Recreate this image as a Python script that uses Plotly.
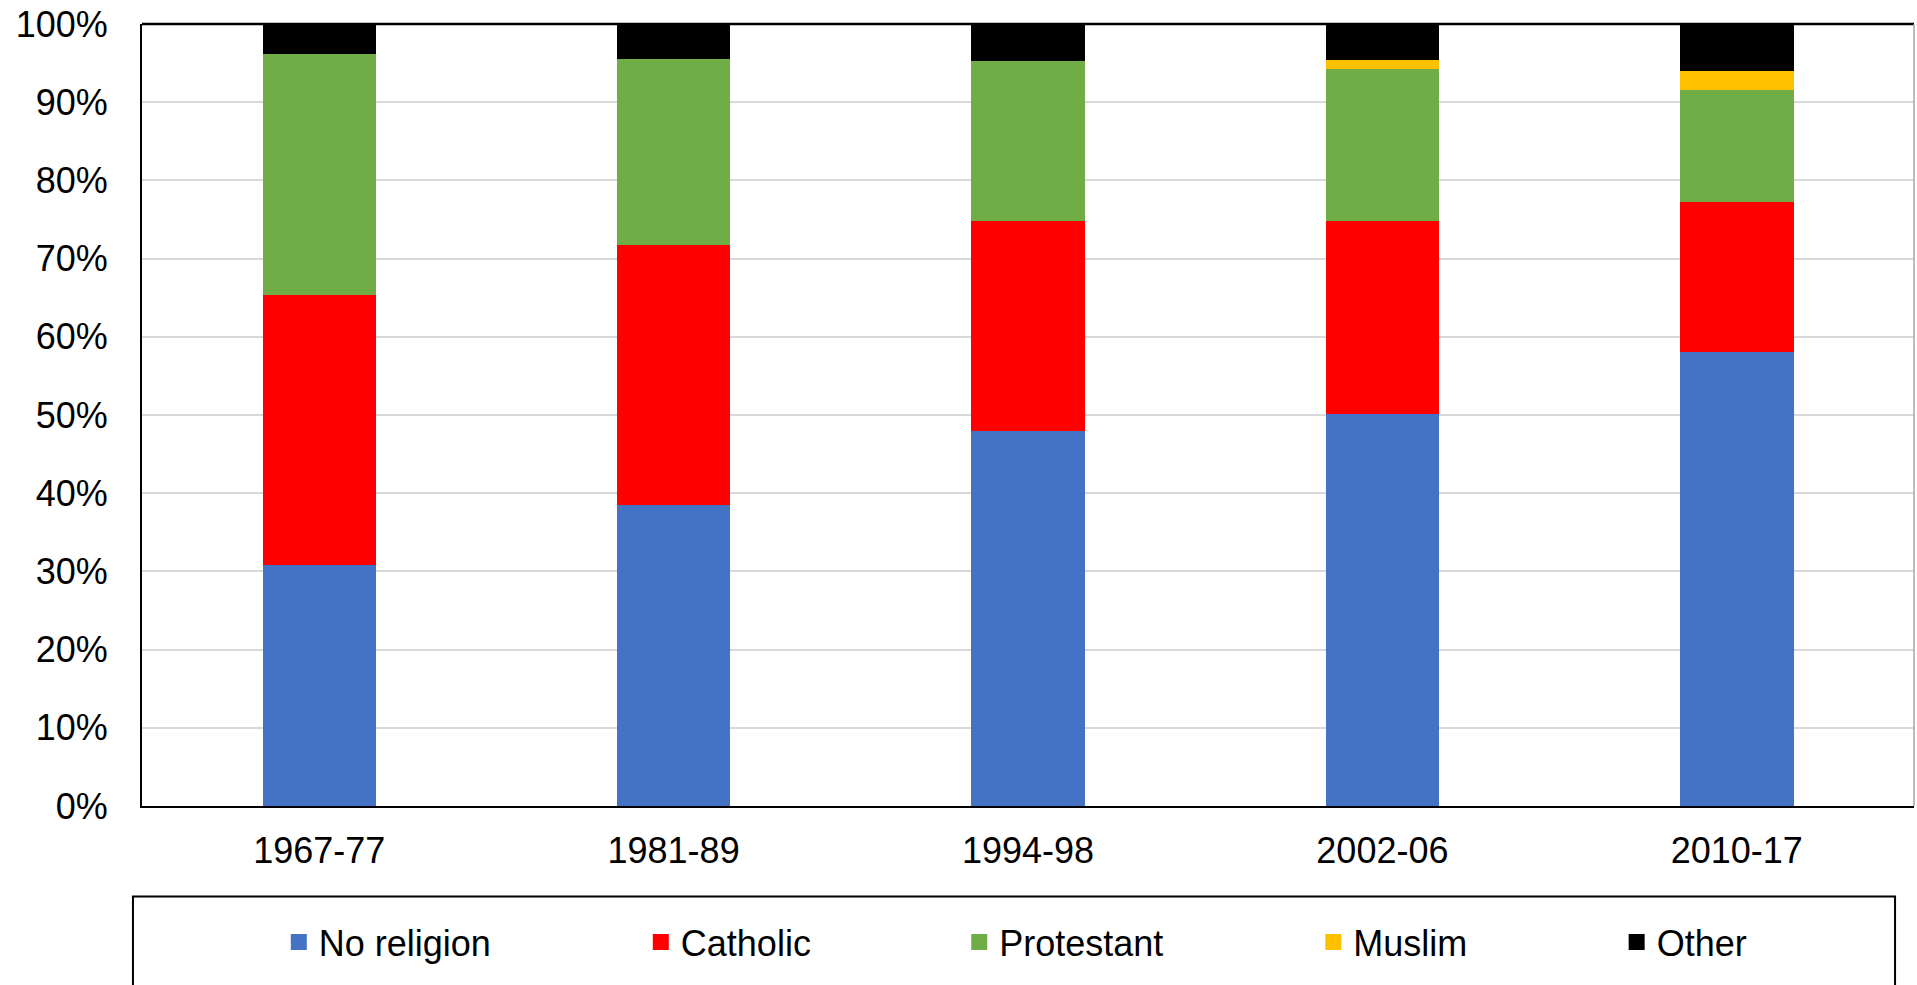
import plotly.graph_objects as go

categories = ["1967-77", "1981-89", "1994-98", "2002-06", "2010-17"]
no_religion = [30.8, 38.5, 47.9, 50.1, 58.0]
catholic = [34.6, 33.2, 26.9, 24.7, 19.3]
protestant = [30.8, 23.8, 20.5, 19.4, 14.2]
muslim = [0.0, 0.0, 0.0, 1.15, 2.55]
other = [3.8, 4.5, 4.7, 4.65, 5.95]

series_names = ["No religion", "Catholic", "Protestant", "Muslim", "Other"]
series_values = [no_religion, catholic, protestant, muslim, other]
colors = ["#4472C4", "#FF0000", "#70AD47", "#FFC000", "#000000"]
legend_ids = ["legend", "legend2", "legend3", "legend4", "legend5"]
legend_x = [0.0772, 0.2815, 0.4612, 0.6610, 0.8322]

FONT = "Liberation Sans, Arial, sans-serif"

fig = go.Figure()
for name, vals, col in zip(series_names, series_values, colors):
    fig.add_trace(go.Bar(
        x=categories, y=vals, name=name, showlegend=False,
        marker=dict(color=col, line=dict(width=0)),
    ))
# legend entries (square swatches)
for name, col, lid in zip(series_names, colors, legend_ids):
    fig.add_trace(go.Scatter(
        x=[None], y=[None], mode="markers", name=name, legend=lid,
        marker=dict(symbol="square", size=20, color=col, line=dict(width=0)),
        hoverinfo="skip",
    ))

layout_legends = {}
for lid, lx in zip(legend_ids, legend_x):
    layout_legends[lid] = dict(
        x=lx, xanchor="left", y=-0.1740, yanchor="middle",
        orientation="h", bgcolor="rgba(0,0,0,0)", borderwidth=0,
        font=dict(family=FONT, size=36, color="black"),
    )

fig.update_layout(
    width=1917, height=985,
    margin=dict(l=142, r=3, t=24, b=179),
    barmode="stack", bargap=0.68,
    plot_bgcolor="white", paper_bgcolor="white",
    font=dict(family=FONT, size=36, color="black"),
    showlegend=True,
    **layout_legends,
)
fig.update_xaxes(
    type="category",
    showline=True, linecolor="black", linewidth=2,
    ticks="", ticklabelstandoff=12,
    tickfont=dict(family=FONT, size=36, color="black"),
)
fig.update_yaxes(
    range=[0, 100], dtick=10, ticksuffix="%",
    showgrid=True, gridcolor="#D9D9D9", gridwidth=1.5,
    showline=True, linecolor="black", linewidth=2,
    zeroline=False,
    ticks="", ticklabelstandoff=25,
    tickfont=dict(family=FONT, size=36, color="black"),
)
# plot frame: top black, right gray
fig.add_shape(type="line", xref="paper", yref="paper", x0=0, x1=1, y0=1, y1=1,
              line=dict(color="black", width=2.5))
fig.add_shape(type="line", xref="paper", yref="paper", x0=1, x1=1, y0=0, y1=1,
              line=dict(color="#A6A6A6", width=1.5))
# legend box
fig.add_shape(type="rect", xref="paper", yref="paper", x0=-0.0051, x1=0.9893,
              y0=-0.1157, y1=-0.26, line=dict(color="black", width=2),
              fillcolor="rgba(0,0,0,0)", layer="below")

fig.write_html("out.html", config={"displayModeBar": False},
               post_script="document.body.style.margin='0';document.body.style.overflow='hidden';")
